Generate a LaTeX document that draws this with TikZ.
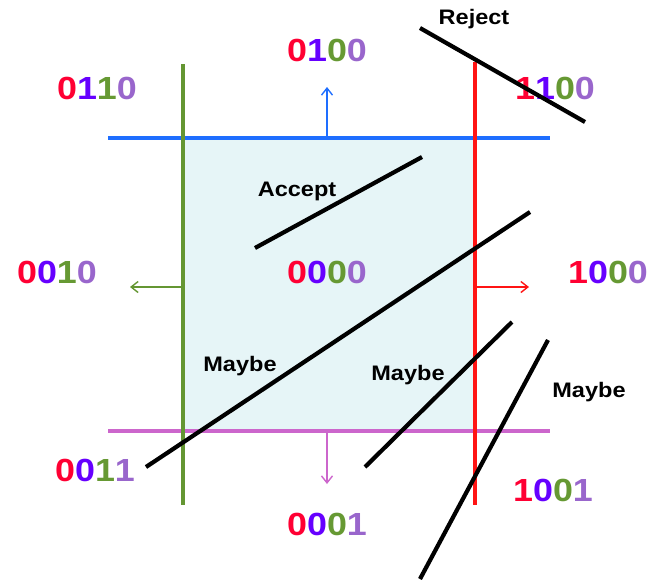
\documentclass[tikz,border=0pt]{standalone}
\usepackage{fontspec}
\setmainfont[FakeStretch=1.12]{Liberation Sans}
\usetikzlibrary{arrows.meta}
\definecolor{bitred}{RGB}{255,0,51}
\definecolor{bitblue}{RGB}{102,0,255}
\definecolor{bitgreen}{RGB}{102,153,51}
\definecolor{bitviolet}{RGB}{153,102,204}
\definecolor{edgeblue}{RGB}{30,110,255}
\definecolor{edgegreen}{RGB}{100,150,50}
\definecolor{edgered}{RGB}{255,20,20}
\definecolor{edgepink}{RGB}{204,102,204}
\definecolor{windowfill}{RGB}{230,245,247}
\newcommand{\outcode}[4]{\textcolor{bitred}{#1}\textcolor{bitblue}{#2}\textcolor{bitgreen}{#3}\textcolor{bitviolet}{#4}}

\begin{document}
\begin{tikzpicture}[
    x=1pt, y=-1pt,
    code/.style={font=\fontsize{32}{34}\selectfont\bfseries, inner sep=0pt},
    tag/.style={font=\fontsize{21}{22}\selectfont\bfseries, inner sep=0pt},
    edge/.style={line width=3.2pt},
    seg/.style={line width=4.2pt, black},
    outarrow/.style={line width=1.4pt, -{Straight Barb[length=7pt,width=11pt]}}
]
\useasboundingbox (0,0) rectangle (662,579);
\fill[windowfill] (183,138) rectangle (475,431);

% window edges
\draw[edge, edgeblue] (108,138) -- (550,138);
\draw[edge, edgepink] (108,431) -- (550,431);
\draw[edge, edgegreen] (183,64) -- (183,505);
\draw[edge, edgered] (475,62) -- (475,505);

% outcode regions
\node[code] (c0110) at (97,88) {\outcode0110};
\node[code] (c0100) at (327,50) {\outcode0100};
\node[code] (c1100) at (555,88) {\outcode1100};
\node[code] (c0010) at (57,272) {\outcode0010};
\node[code] (c0000) at (327,272) {\outcode0000};
\node[code] (c1000) at (608,272) {\outcode1000};
\node[code] (c0011) at (95,470) {\outcode0011};
\node[code] (c0001) at (327,524) {\outcode0001};
\node[code] (c1001) at (553,490) {\outcode1001};

% direction arrows
\coordinate (top) at (327,138);
\coordinate (bottom) at (327,431);
\coordinate (left) at (183,287);
\coordinate (right) at (475,287);
\draw[outarrow, edgeblue] (top) -- (327,87);
\draw[outarrow, edgepink] (bottom) -- (327,484);
\draw[outarrow, edgegreen] (left) -- (130,287);
\draw[outarrow, edgered] (right) -- (529,287);

% line segments
\coordinate (r1) at (420,28);
\coordinate (r2) at (585,122);
\coordinate (a1) at (255,248);
\coordinate (a2) at (422,157);
\coordinate (m1) at (146,467);
\coordinate (m2) at (530,212);
\coordinate (n1) at (365,467);
\coordinate (n2) at (512,322);
\coordinate (p1) at (420,579);
\coordinate (p2) at (548,340);
\draw[seg] (r1) -- (r2);
\draw[seg] (a1) -- (a2);
\draw[seg] (m1) -- (m2);
\draw[seg] (n1) -- (n2);
\draw[seg] (p1) -- (p2);

\node[tag] (reject) at (474,19) {Reject};
\node[tag] (accept) at (297,191) {Accept};
\node[tag] (maybeA) at (240,366) {Maybe};
\node[tag] (maybeB) at (408,375) {Maybe};
\node[tag] (maybeC) at (589,392) {Maybe};
\end{tikzpicture}
\end{document}
